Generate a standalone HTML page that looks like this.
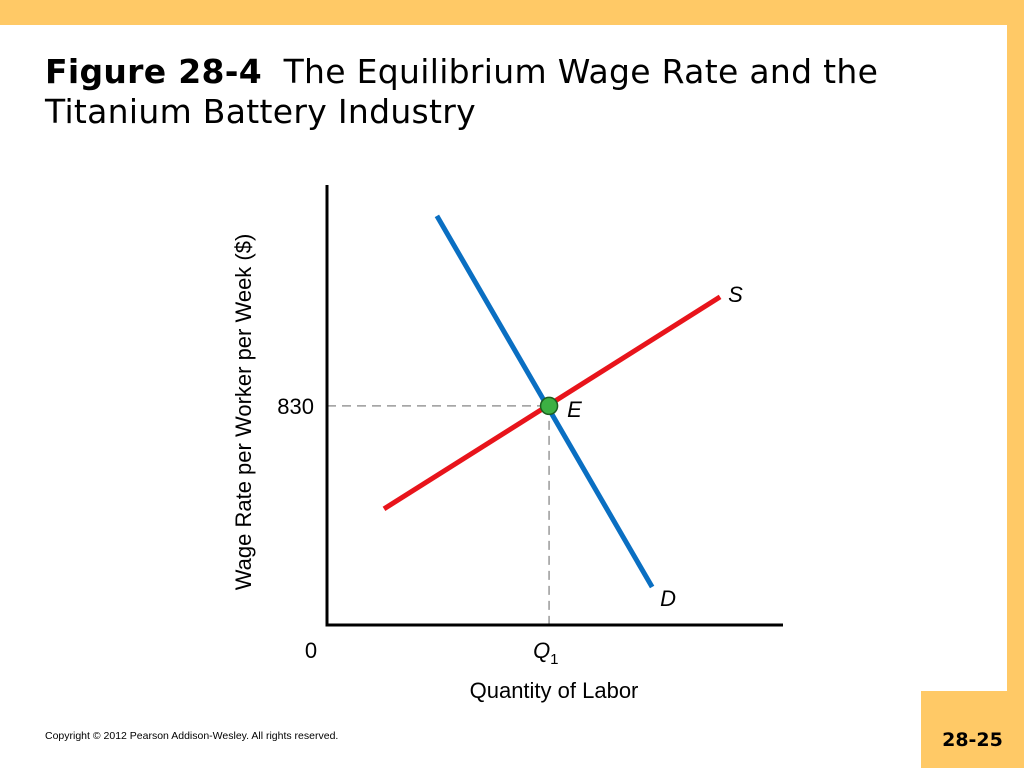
<!DOCTYPE html>
<html><head><meta charset="utf-8"><style>
body{margin:0;width:1024px;height:768px;position:relative;background:#fff;font-family:"Liberation Sans",sans-serif;overflow:hidden}
.bar{position:absolute;background:#FFC966}
</style></head><body>
<div class="bar" style="left:0;top:0;width:1024px;height:25px"></div>
<div class="bar" style="left:1007px;top:0;width:17px;height:768px"></div>
<div class="bar" style="left:921px;top:691px;width:103px;height:77px"></div>
<div style="position:absolute;left:921px;top:740px;width:103px;text-align:center;font-weight:bold;font-size:19px;line-height:20px;margin-top:-10px;font-family:'DejaVu Sans',sans-serif">28-25</div>
<div style="position:absolute;left:45px;top:52px;font-size:33px;line-height:40px;font-family:'DejaVu Sans',sans-serif;letter-spacing:0.3px"><b>Figure 28-4</b>&nbsp; The Equilibrium Wage Rate and the<br>Titanium Battery Industry</div>
<div style="position:absolute;left:45px;top:730px;font-size:10.5px">Copyright © 2012 Pearson Addison-Wesley. All rights reserved.</div>
<svg width="1024" height="768" style="position:absolute;left:0;top:0">
<g id="g"></g>
</svg>
<script>
const qDomain=[0,100], wDomain=[0,1667];
const supplyQ=[12.5,86.2], supplyW=[440,1243];
const demandQ=[24.1,71.3], demandW=[1550,144];
const eqQ=[48.7], eqW=[830];
const wTicks=["830"];
const X=q=>327+(q-qDomain[0])/(qDomain[1]-qDomain[0])*456;
const Y=w=>625-(w-wDomain[0])/(wDomain[1]-wDomain[0])*440;
const ns="http://www.w3.org/2000/svg", g=document.getElementById('g');
function mk(t,a,txt){const e=document.createElementNS(ns,t);for(const k in a)e.setAttribute(k,a[k]);if(txt!=null)e.textContent=txt;g.appendChild(e);return e;}
const ex=X(eqQ[0]), ey=Y(eqW[0]);
let e;
e=mk('line',{x1:327,y1:ey,x2:ex,y2:ey,stroke:'#999','stroke-width':1.5,'stroke-dasharray':'9,6'});


e=mk('line',{x1:ex,y1:ey,x2:ex,y2:625,stroke:'#999','stroke-width':1.5,'stroke-dasharray':'9,6'});


e=mk('polyline',{points:`327,185 327,625 783,625`,fill:'none',stroke:'#000','stroke-width':3});


e=mk('line',{x1:X(supplyQ[0]),y1:Y(supplyW[0]),x2:X(supplyQ[1]),y2:Y(supplyW[1]),stroke:'#e8141b','stroke-width':5});


e=mk('line',{x1:X(demandQ[0]),y1:Y(demandW[0]),x2:X(demandQ[1]),y2:Y(demandW[1]),stroke:'#0a6fc2','stroke-width':5});


e=mk('circle',{cx:ex,cy:ey,r:8.5,fill:'#3cb043',stroke:'#1a5e1f','stroke-width':1.5});


const ts='font-family:"Liberation Sans",sans-serif;font-size:22px';
e=mk('text',{x:X(supplyQ[1])+8,y:Y(supplyW[1])+5,style:ts+';font-style:italic'},'S');


e=mk('text',{x:X(demandQ[1])+8,y:Y(demandW[1])+19,style:ts+';font-style:italic'},'D');


e=mk('text',{x:ex+18,y:ey+11,style:ts+';font-style:italic'},'E');


e=mk('text',{x:314,y:ey+8,'text-anchor':'end',style:ts},wTicks[0]);


e=mk('text',{x:311,y:658,'text-anchor':'middle',style:ts},'0');


e=mk('text',{x:ex-16,y:658,style:ts+';font-style:italic'},'Q');


e=mk('text',{x:ex+1,y:664,style:'font-family:"Liberation Sans",sans-serif;font-size:15px'},'1');


e=mk('text',{x:554,y:698,'text-anchor':'middle',style:ts},'Quantity of Labor');


e=mk('text',{x:0,y:0,'text-anchor':'middle',transform:'translate(251,412) rotate(-90)',style:ts},'Wage Rate per Worker per Week ($)');


</script>
</body></html>
